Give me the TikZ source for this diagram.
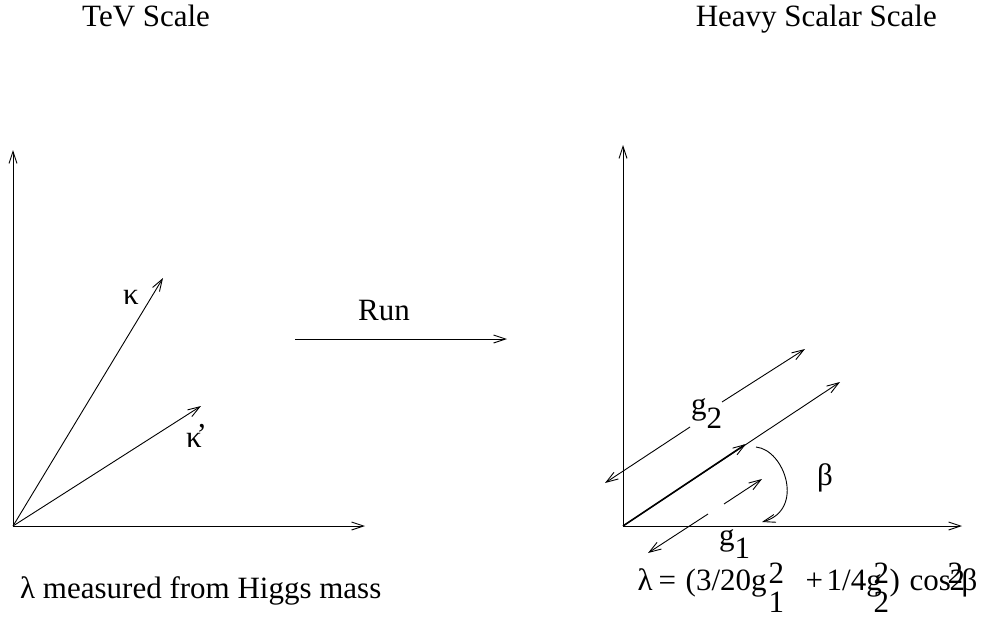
\documentclass[tikz,border=0pt]{standalone}
\usepackage{fontspec}
\setmainfont{Liberation Serif}
\usetikzlibrary{arrows.meta}
\newcommand\putat[2]{\rlap{\hspace*{#1pt}#2}}
\begin{document}
\begin{tikzpicture}[x=1pt,y=-1pt,
  vec/.style={line width=0.9pt,-{Straight Barb[length=12pt,width=8pt,line width=0.9pt]}},
  lbl/.style={inner sep=0pt,font=\fontsize{31}{37}\selectfont},
  txt/.style={inner sep=0pt,anchor=base west,font=\fontsize{31}{37}\selectfont}]
\useasboundingbox (0,0) rectangle (994,618);
% titles
\node[txt] (t1) at (82,27) {TeV Scale};
\node[txt,anchor=base east] (t2) at (937,27) {Heavy Scalar Scale};
% left plot
\coordinate (O1) at (13,526);
\coordinate (Y1) at (13,150);
\coordinate (X1) at (365,526);
\coordinate (K) at (163,278);
\coordinate (Kp) at (201,406);
\draw[vec] (O1) -- (Y1);
\draw[vec] (O1) -- (X1);
\draw[vec] (O1) -- (K);
\draw[vec] (O1) -- (Kp);
\node[lbl] (kl) at (131,297) {κ};
\node[lbl,anchor=base west] (kpl) at (186,447) {κ\kern-0.12em\raisebox{0.62em}{,}};
% run arrow
\coordinate (R0) at (295,339);
\coordinate (R1) at (507,339);
\draw[vec] (R0) -- (R1);
\node[txt] (run) at (358,320) {Run};
% right plot
\coordinate (O2) at (623,526);
\coordinate (Y2) at (623,145);
\coordinate (X2) at (962,526);
\coordinate (L) at (840,382);
\coordinate (S) at (746,444);
\draw[vec] (O2) -- (Y2);
\draw[vec] (O2) -- (X2);
\draw[vec] (O2) -- (L);
\draw[vec,line width=1.6pt] (O2) -- (S);
% g2
\coordinate (A1) at (690,427);
\coordinate (A2) at (605,483);
\coordinate (B1) at (722,402);
\coordinate (B2) at (805,349);
\draw[vec] (A1) -- (A2);
\draw[vec] (B1) -- (B2);
\node[txt] (g2) at (691,414) {g\raisebox{-0.48em}{2}};
% g1
\coordinate (C1) at (708,514);
\coordinate (C2) at (648,553);
\coordinate (D1) at (724,504);
\coordinate (D2) at (762,479);
\draw[vec] (C1) -- (C2);
\draw[vec] (D1) -- (D2);
\node[txt] (g1) at (719,545) {g\raisebox{-0.45em}{1}};
% beta arc
\coordinate (E0) at (756,447);
\coordinate (E1) at (762,522);
\draw[vec] (E0) .. controls (785,450) and (805,510) .. (E1);
\node[lbl] (beta) at (825,478) {β};
% bottom texts
\node[txt] (lam1) at (20,598) {λ measured from Higgs mass};
\node[txt] (lam2) at (637,590) {\putat{0}{λ}\putat{21}{=}\putat{48}{(3/20g}%
\putat{131}{\raisebox{0.22em}{2}}\putat{131}{\raisebox{-0.72em}{1}}%
\putat{168}{+}\putat{189}{1/4g}%
\putat{236}{\raisebox{0.22em}{2}}\putat{236}{\raisebox{-0.72em}{2}}%
\putat{252}{)}\putat{272}{cos}\putat{310}{\raisebox{0.22em}{2}}%
\putat{312}{2}\putat{324}{β}};
\end{tikzpicture}
\end{document}
